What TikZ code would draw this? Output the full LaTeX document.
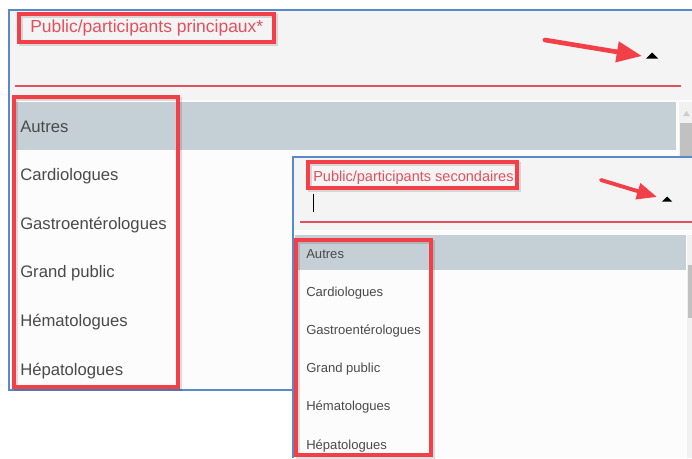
\documentclass[tikz,border=0pt]{standalone}
\usepackage{fontspec}
\setmainfont{Liberation Sans}
\definecolor{uiblue}{HTML}{5B88C8}
\definecolor{uired}{HTML}{F23F48}
\definecolor{uilabel}{HTML}{E2505E}
\definecolor{uitext}{HTML}{4A4A4A}
\definecolor{uihead}{HTML}{F4F4F4}
\definecolor{uilist}{HTML}{FCFCFC}
\definecolor{uisel}{HTML}{C5CFD6}
\definecolor{uiscroll}{HTML}{C1C1C1}
\definecolor{uitrack}{HTML}{F1F1F1}
\usetikzlibrary{arrows.meta}

\begin{document}
\begin{tikzpicture}[x=0.75pt, y=-0.75pt,
        mainitem/.style={anchor=base west, inner sep=0pt, text=uitext,
                         font=\fontsize{12.5}{14}\selectfont},
        subitem/.style={anchor=base west, inner sep=0pt, text=uitext,
                        font=\fontsize{9.8}{12}\selectfont},
        fieldlabel/.style={anchor=base west, inner sep=0pt, text=uilabel},
        markbox/.style={draw=uired, line width=2.3pt},
        markshade/.style={draw=black, opacity=0.12, line width=3.5pt},
        callout/.style={draw=uired, line cap=round},
        frame/.style={draw=uiblue, line width=1.1pt}
      ]
        \useasboundingbox[fill=white] (0,0) rectangle (692,458);

        % Main dropdown
        \fill[uilist] (9,10) rectangle (692,390);
        \fill[uihead] (9,10) rectangle (692,100);
        \fill[uisel] (12,102) rectangle (676,150);
        \fill[uitrack] (679,102) rectangle (692,158);
        \fill[uiscroll!80] (683,116) -- (690,116) -- (686.5,111) -- cycle;
        \fill[uiscroll] (680,123) rectangle (692,158);
        \draw[frame] (692,10) -- (9,10) -- (9,390) -- (293,390);
        \draw[uilabel, line width=1.2pt] (15,86) -- (681,86);

        \node[fieldlabel, font=\fontsize{13.1}{15}\selectfont] (titleMain) at (30,32)
          {Public/participants principaux*};
        \draw[markshade] (21,16) rectangle (276,44);
        \draw[markbox] (19,14) rectangle (274,42);

        \coordinate (calloutMainTail) at (545,40);
        \coordinate (calloutMainTip) at (642,56);
        \draw[callout, line width=3.5pt, -{Triangle[length=19pt,width=15pt]}]
          (calloutMainTail) -- (calloutMainTip);
        \fill (646,58.5) -- (658,58.5) -- (652,52.5) -- cycle;

        \foreach \lbl [count=\i] in {Autres, Cardiologues, Gastroentérologues,
                                     Grand public, Hématologues, Hépatologues}
          \node[mainitem] (mainItem\i) at (20, {132+48.6*(\i-1)}) {\lbl};
        \draw[markshade] (16,99) rectangle (180,389);
        \draw[markbox] (14,97) rectangle (178,387);

        % Secondary dropdown
        \fill[uilist] (293,157) rectangle (692,458);
        \fill[uihead] (293,157) rectangle (692,230);
        \fill[uisel] (295,235) rectangle (686,270);
        \fill[uitrack] (687,235) rectangle (692,458);
        \fill[uiscroll] (688,265) rectangle (692,318);
        \draw[frame] (692,157) -- (293,157) -- (293,458);
        \draw[uilabel, line width=1.2pt] (300,222) -- (692,222);

        \node[fieldlabel, font=\fontsize{10.9}{13}\selectfont] (titleSub) at (313,181)
          {Public/participants secondaires};
        \draw[markshade] (310,164) rectangle (519,190);
        \draw[markbox] (308,162) rectangle (517,188);
        \draw[black, line width=0.6pt] (313,194) -- (313,212);

        \coordinate (calloutSubTail) at (601,180);
        \coordinate (calloutSubTip) at (657,197);
        \draw[callout, line width=2.9pt, -{Triangle[length=15pt,width=12pt]}]
          (calloutSubTail) -- (calloutSubTip);
        \fill (662,201.5) -- (672,201.5) -- (667,196.5) -- cycle;

        \foreach \lbl [count=\i] in {Autres, Cardiologues, Gastroentérologues,
                                     Grand public, Hématologues, Hépatologues}
          \node[subitem] (subItem\i) at (306, {258+38.2*(\i-1)}) {\lbl};
        \draw[markshade] (298,242) rectangle (433,457);
        \draw[markbox] (296,240) rectangle (431,455);
      \end{tikzpicture}
\end{document}
